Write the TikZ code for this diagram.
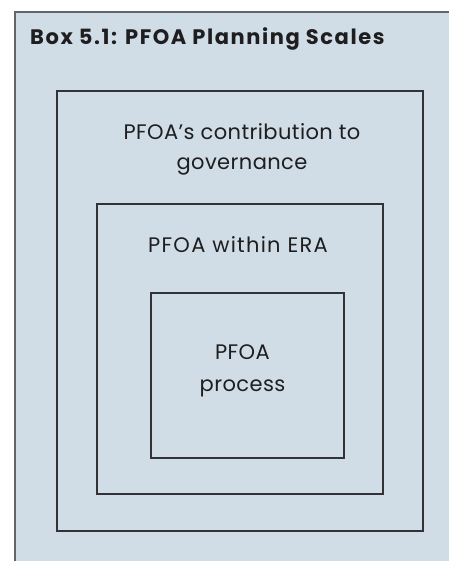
\documentclass[tikz,border=0pt]{standalone}
\usepackage{fontspec}
\setmainfont{Poppins}
\newfontfamily\titlefont[LetterSpace=7.5]{Poppins Bold}
\newfontfamily\bodyfont[LetterSpace=2]{Poppins}
\newfontfamily\widebodyfont[LetterSpace=6]{Poppins}
\definecolor{panel}{RGB}{209,221,230}
\definecolor{edge}{RGB}{50,50,55}
\definecolor{outer}{RGB}{100,100,105}
\definecolor{ink}{RGB}{30,30,32}
\begin{document}
\begin{tikzpicture}[x=1pt,y=-1pt,
  scalebox/.style={draw=edge,line width=1.3pt},
  lbl/.style={align=center,text=ink,inner sep=0pt,anchor=base}]
\useasboundingbox (0,0) rectangle (449,561);
\fill[panel] (15,12) rectangle (449,561);
\draw[outer,line width=2pt] (15,561) -- (15,12) -- (449,12);
\node[anchor=base west,font=\titlefont\fontsize{21}{24}\selectfont,inner sep=0pt,text=ink] (title) at (30,45) {Box 5.1: PFOA Planning Scales};
\draw[scalebox] (57,91) rectangle (423,531);
\draw[scalebox] (97,204) rectangle (383,494);
\draw[scalebox] (151,293) rectangle (344,458);
\node[lbl,font=\bodyfont\fontsize{21}{30}\selectfont] (gov) at (242,170) {PFOA’s contribution to\\governance};
\node[lbl,font=\widebodyfont\fontsize{21}{30}\selectfont] (era) at (238,252) {PFOA within ERA};
\node[lbl,font=\bodyfont\fontsize{21}{32}\selectfont] (proc) at (242.5,391) {PFOA\\process};
\end{tikzpicture}
\end{document}
